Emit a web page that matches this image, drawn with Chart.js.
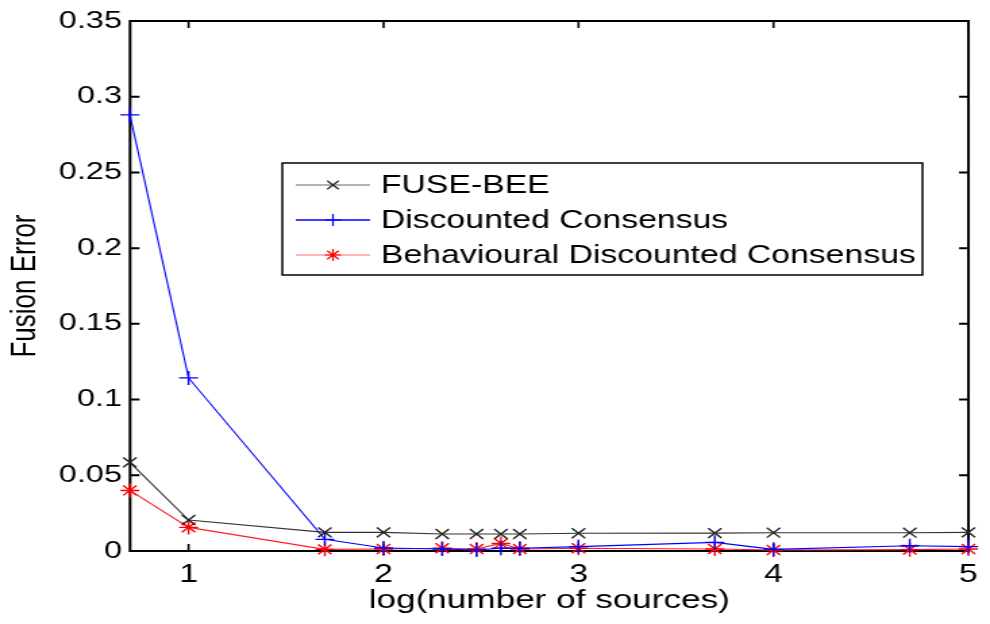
<!DOCTYPE html>
<html>
<head>
<meta charset="utf-8">
<script src="https://cdn.jsdelivr.net/npm/chart.js@4/dist/chart.umd.min.js"></script>
<style>
  body { margin: 0; background: #fff; }
  #wrap { width: 990px; height: 624px; overflow: hidden; }
</style>
</head>
<body>
<!-- the original figure is stretched sideways, so the canvas is drawn narrow and scaled up -->
<div id="wrap"><canvas id="fusion" width="733" height="624" style="width:990px;height:624px"></canvas></div>
<script>
// log10 of the number of sources (5, 10, 50, ... 100000)
const logSources = [0.699, 1, 1.699, 2, 2.301, 2.477, 2.602, 2.699, 3, 3.699, 4, 4.699, 5];
const fuseBee = [0.0585, 0.0205, 0.0123, 0.0123, 0.0112, 0.0112, 0.0112, 0.0112, 0.0117, 0.0118, 0.0121, 0.0121, 0.0123];
const discounted = [0.288, 0.1143, 0.0077, 0.0020, 0.0013, 0.0007, 0.0018, 0.0018, 0.0029, 0.0057, 0.0011, 0.0035, 0.0029];
const behavioural = [0.0400, 0.0156, 0.0011, 0.0013, 0.0018, 0.0013, 0.0050, 0.0013, 0.0018, 0.0013, 0.0007, 0.0009, 0.0013];
const seriesNames = ['FUSE-BEE', 'Discounted Consensus', 'Behavioural Discounted Consensus'];
const xTicks = [1, 2, 3, 4, 5];
const yTickLabels = ['0', '0.05', '0.1', '0.15', '0.2', '0.25', '0.3', '0.35'];

const sansFont = '"Liberation Sans", Arial, Helvetica, sans-serif';

function toPoints(ys) {
    return ys.map(function(y, i) { return { x: logSources[i], y: y }; });
}

function drawMarker(ctx, style, x, y, r) {
    ctx.beginPath();
    if (style === 'cross' || style === 'star') {
        ctx.moveTo(x - r, y); ctx.lineTo(x + r, y);
        ctx.moveTo(x, y - r); ctx.lineTo(x, y + r);
    }
    if (style === 'crossRot' || style === 'star') {
        const d = r * 0.707;
        ctx.moveTo(x - d, y - d); ctx.lineTo(x + d, y + d);
        ctx.moveTo(x - d, y + d); ctx.lineTo(x + d, y - d);
    }
    ctx.stroke();
}

// box round the plot with inward ticks, like matlab
const framePlugin = {
    id: 'frame',
    beforeDatasetsDraw(chart) {
        const ctx = chart.ctx;
        const a = chart.chartArea;
        const xs = chart.scales.x, ys = chart.scales.y;
        ctx.save();
        ctx.strokeStyle = '#000';
        ctx.lineWidth = 1.6;
        xTicks.forEach(function(v) {
            const px = xs.getPixelForValue(v);
            ctx.beginPath();
            ctx.moveTo(px, a.bottom); ctx.lineTo(px, a.bottom - 7);
            ctx.moveTo(px, a.top); ctx.lineTo(px, a.top + 7);
            ctx.stroke();
        });
        ctx.lineWidth = 2;
        yTickLabels.forEach(function(t, i) {
            const py = ys.getPixelForValue(i * 0.05);
            ctx.beginPath();
            ctx.moveTo(a.left, py); ctx.lineTo(a.left + 7, py);
            ctx.moveTo(a.right, py); ctx.lineTo(a.right - 7, py);
            ctx.stroke();
        });
        ctx.strokeRect(a.left, a.top, a.right - a.left, a.bottom - a.top);
        ctx.restore();
    }
};

const legendPlugin = {
    id: 'boxLegend',
    afterDraw(chart) {
        const ctx = chart.ctx;
        const left = 209, top = 163, w = 474, h = 112;
        ctx.save();
        ctx.fillStyle = '#fff';
        ctx.fillRect(left, top, w, h);
        ctx.strokeStyle = '#000';
        ctx.lineWidth = 1.5;
        ctx.strokeRect(left, top, w, h);
        ctx.font = '25px ' + sansFont;
        ctx.textBaseline = 'middle';
        chart.data.datasets.forEach(function(ds, i) {
            const y = top + 22 + i * 35;
            ctx.strokeStyle = ds.legendColor;
            ctx.lineWidth = 1.5;
            ctx.beginPath();
            ctx.moveTo(left + 10, y); ctx.lineTo(left + 65, y);
            ctx.stroke();
            ctx.strokeStyle = ds.pointBorderColor;
            ctx.lineWidth = 1.2;
            drawMarker(ctx, ds.pointStyle, left + 37.5, y, 6);
            ctx.fillStyle = '#000';
            ctx.fillText(ds.label, left + 73, y + 1);
        });
        ctx.restore();
    }
};

const ctx = document.getElementById('fusion').getContext('2d');
const fusionChart = new Chart(ctx, {
    type: 'line',
    data: {
        datasets: [{
            label: seriesNames[0],
            data: toPoints(fuseBee),
            borderColor: '#333',
            legendColor: '#999',
            pointBorderColor: '#222',
            pointStyle: 'crossRot'
        }, {
            label: seriesNames[1],
            data: toPoints(discounted),
            borderColor: '#0000ff',
            legendColor: '#0000ff',
            pointBorderColor: '#0000ff',
            pointStyle: 'cross'
        }, {
            label: seriesNames[2],
            data: toPoints(behavioural),
            borderColor: '#ff2020',
            legendColor: '#ff9a9a',
            pointBorderColor: '#ff0000',
            pointStyle: 'star'
        }]
    },
    options: {
        responsive: false,
        animation: false,
        clip: false,
        devicePixelRatio: 1,
        layout: { padding: { top: 21, right: 10.8, left: 0, bottom: 0 } },
        elements: {
            line: { borderWidth: 1.1, tension: 0, fill: false },
            point: { radius: 7, borderWidth: 1.4, backgroundColor: 'transparent', hoverRadius: 7 }
        },
        plugins: {
            legend: { display: false },
            tooltip: { enabled: false }
        },
        scales: {
            x: {
                type: 'linear',
                min: 0.7,
                max: 5,
                afterBuildTicks: function(scale) {
                    scale.ticks = xTicks.map(function(v) { return { value: v }; });
                },
                afterFit: function(scale) { scale.height = 73; },
                grid: { display: false, drawTicks: false },
                border: { display: false },
                ticks: {
                    color: '#000',
                    padding: 9,
                    maxRotation: 0,
                    font: { family: sansFont, size: 25 }
                },
                title: {
                    display: true,
                    text: 'log(number of sources)',
                    color: '#000',
                    padding: { top: 0, bottom: 9 },
                    font: { family: sansFont, size: 26, lineHeight: 1.1 }
                }
            },
            y: {
                min: 0,
                max: 0.35,
                afterFit: function(scale) { scale.width = 96.3; },
                grid: { display: false, drawTicks: false },
                border: { display: false },
                ticks: {
                    stepSize: 0.05,
                    color: '#000',
                    padding: 6,
                    font: { family: sansFont, size: 24 },
                    callback: function(value, index) { return yTickLabels[index]; }
                },
                title: {
                    display: true,
                    text: 'Fusion Error',
                    color: '#000',
                    padding: { top: 3, bottom: 0 },
                    font: { family: sansFont, size: 26, lineHeight: 1.2 }
                }
            }
        }
    },
    plugins: [framePlugin, legendPlugin]
});
document.getElementById('fusion').style.width = '990px';
document.getElementById('fusion').style.height = '624px';
</script>
</body>
</html>
